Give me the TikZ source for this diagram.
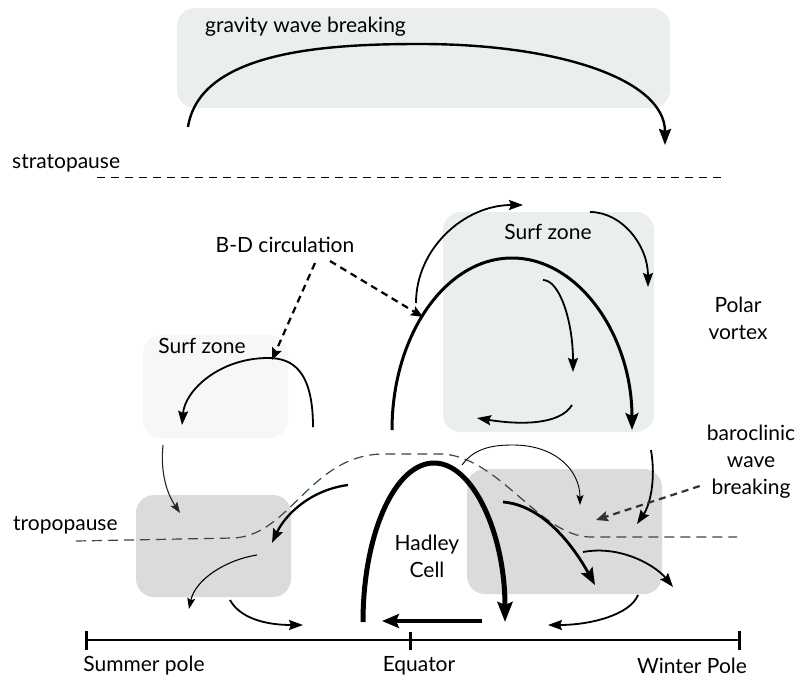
\documentclass[tikz,border=0pt]{standalone}
\usepackage{fontspec}
\setmainfont{Lato}
\usetikzlibrary{arrows.meta}
\definecolor{zonefill}{HTML}{EBEEEF}
\definecolor{palefill}{HTML}{F6F7F7}
\definecolor{breakfill}{HTML}{DCDBDA}
\definecolor{tropocol}{HTML}{2F4A50}
\begin{document}
\begin{tikzpicture}[
        x=1pt, y=-1pt,
        font=\fontsize{21}{27}\selectfont,
        zone/.style={rounded corners=18pt},
        flow/.style={line width=1.8pt, -{Stealth[length=14pt, width=10pt, inset=2pt]}},
        thinflow/.style={line width=1.1pt, -{Stealth[length=11pt, width=8pt, inset=2pt]}},
        bigflow/.style={line width=3pt, -{Stealth[length=17pt, width=13pt, inset=3pt]}},
        hadley/.style={line width=5pt, -{Stealth[length=20pt, width=15pt, inset=3pt]}},
        pointer/.style={line width=2.2pt, dash pattern=on 7pt off 5pt, -{Stealth[length=12pt, width=10pt, inset=2pt]}},
        label/.style={align=center, inner sep=0pt}
    ]
        \useasboundingbox (0,0) rectangle (800,680);
        % shaded regions
        \fill[zone, zonefill] (177,8) rectangle (670,108);
        \fill[zone, zonefill] (443,212) rectangle (654,432);
        \fill[zone, palefill] (143,335) rectangle (288,438);
        \fill[zone, breakfill] (136,495) rectangle (291,597);
        \fill[zone, breakfill] (467,469) rectangle (662,594);

        % labels
        \node[label, anchor=west] (gwb) at (205,27) {gravity wave breaking};
        \node[label, anchor=west] (strato) at (12,163) {stratopause};
        \node[label, anchor=west] (tropo) at (13,525) {tropopause};
        \node[label] (surfR) at (548,232) {Surf zone};
        \node[label] (surfL) at (202,346) {Surf zone};
        \node[label] (bd) at (285,245) {B-D circulation};
        \node[label] (polar) at (738,318) {Polar\\vortex};
        \node[label] (cell) at (427,556) {Hadley\\Cell};
        \node[label] (baro) at (751,462) {baroclinic\\wave\\breaking};
        \node[label] (summer) at (144,666) {Summer pole};
        \node[label] (equator) at (419,666) {Equator};
        \node[label] (winter) at (692,666) {Winter Pole};

        % stratopause and tropopause
        \draw[line width=1pt, dash pattern=on 8pt off 6pt] (97,177) -- (725,177);
        \draw[tropocol, line width=1.2pt, dash pattern=on 10pt off 6pt]
            (76,541) -- (233,538) .. controls (290,536) and (310,455) .. (383,454)
            -- (443,454) .. controls (500,458) and (540,536) .. (590,537) -- (737,537);

        % upper circulation
        \draw[line width=2.4pt, -{Stealth[length=16pt, width=12pt, inset=2pt]}]
            (188,127) .. controls (200,50) and (330,44) .. (420,44)
            .. controls (560,44) and (665,80) .. (665,145);
        \draw[flow] (416,303) arc[start angle=180, end angle=270, x radius=107, y radius=98];
        \draw[flow] (590,212) arc[start angle=270, end angle=360, x radius=58, y radius=75];
        \draw[bigflow] (392,430) arc[start angle=180, end angle=360, x radius=120, y radius=172];
        \draw[flow] (543,280) arc[start angle=270, end angle=360, x radius=30, y radius=92];
        \draw[flow] (572,405) .. controls (560,425) and (520,425) .. (477,418);
        \draw[flow] (313,427) .. controls (313,370) and (292,358) .. (268,358)
            .. controls (220,358) and (185,390) .. (182,425);
        \draw[pointer] (bd.south) ++(30,10) -- (272,360);
        \draw[pointer] (bd.south) ++(45,8) -- (423,317);

        % lower circulation
        \draw[thinflow, black!85] (163,445) .. controls (160,475) and (168,495) .. (180,513);
        \draw[flow, line width=2.3pt] (348,485) .. controls (310,490) and (285,515) .. (272,543);
        \draw[thinflow] (257,555) .. controls (225,560) and (195,580) .. (189,609);
        \draw[flow] (230,600) .. controls (240,618) and (265,625) .. (303,625);
        \draw[hadley] (363,622) arc[start angle=180, end angle=360, x radius=71, y radius=159];
        \draw[line width=4pt, -{Stealth[length=17pt, width=14pt, inset=3pt]}] (482,621) -- (382,621);
        \draw[line width=0.9pt, -{Stealth[length=10pt, width=7pt, inset=2pt]}]
            (462,465) .. controls (475,447) and (495,445) .. (513,445)
            .. controls (555,445) and (580,470) .. (580,505);
        \draw[flow] (651,450) .. controls (656,480) and (650,505) .. (637,524);
        \draw[pointer, black!80] (baro.west) ++(-7,24) -- (596,520);
        \draw[bigflow, line width=2.8pt] (503,502) .. controls (540,505) and (570,540) .. (595,585);
        \draw[flow] (583,552) .. controls (620,545) and (655,565) .. (673,587);
        \draw[flow] (638,595) .. controls (630,615) and (590,625) .. (548,625);

        % latitude axis
        \draw[line width=1.2pt] (86,640) -- (739,640);
        \draw[line width=3pt] (86,631) -- (86,650) (410,632) -- (410,650) (739,631) -- (739,650);
    \end{tikzpicture}
\end{document}
